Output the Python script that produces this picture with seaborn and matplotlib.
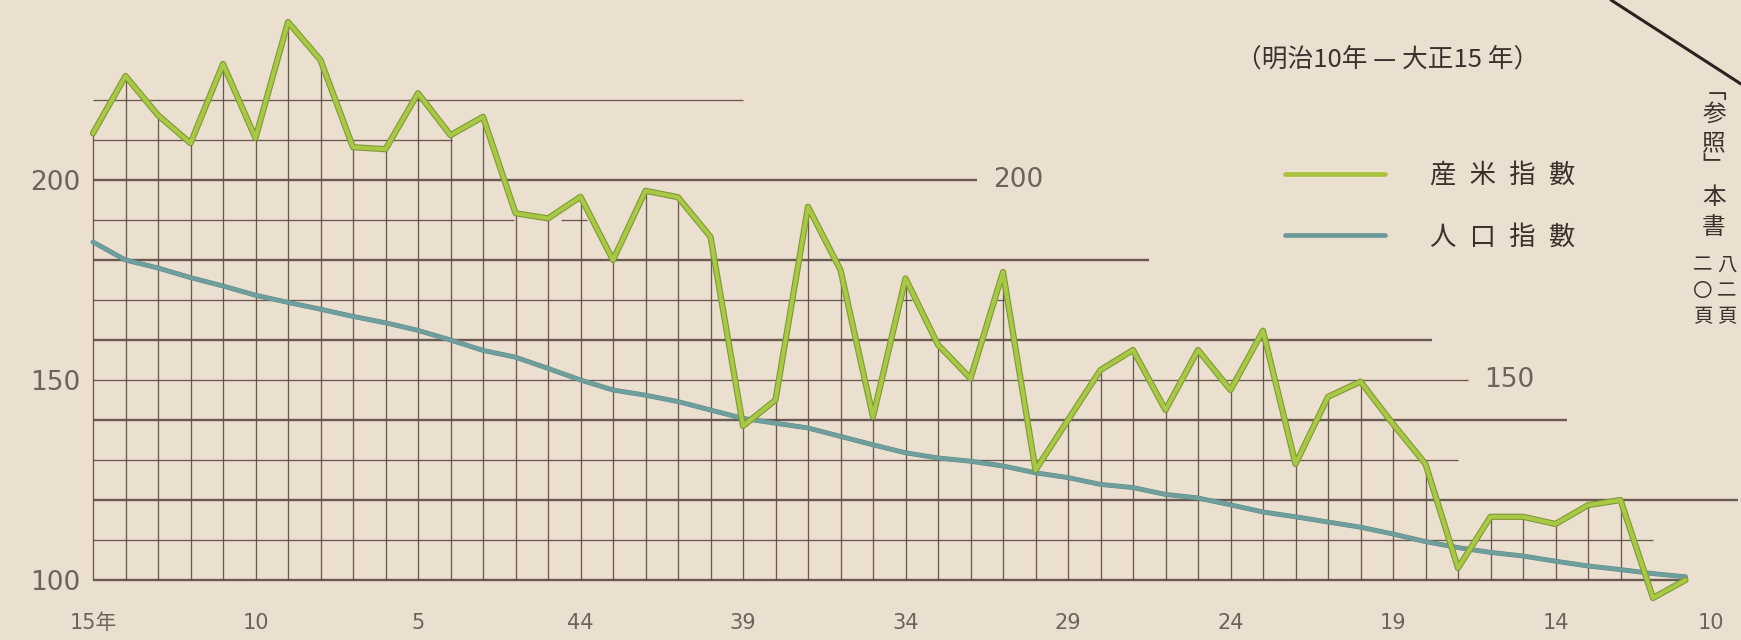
import numpy as np
import pandas as pd
import matplotlib
matplotlib.use("Agg")
import matplotlib.pyplot as plt
import matplotlib.patheffects as pe
import matplotlib.transforms as mtransforms
from matplotlib.lines import Line2D
import seaborn as sns

# ---------------- data ----------------
# index 0 = 大正15年 (1926) ... index 49 = 明治10年 (1877)
year_index = list(range(50))
rice_index = [211.7, 226.0, 216.2, 209.2, 229.0, 210.5, 239.5, 230.0, 208.2, 207.7,
              221.7, 211.2, 215.8, 191.7, 190.4, 195.8, 180.0, 197.3, 195.7, 185.8,
              138.5, 145.0, 193.3, 177.5, 140.8, 175.4, 158.8, 150.4, 177.0, 127.5,
              140.0, 152.5, 157.5, 142.5, 157.5, 147.5, 162.3, 129.0, 145.8, 149.6,
              139.0, 129.0, 103.0, 115.8, 115.8, 114.0, 118.7, 120.0, 95.5, 100.0]
pop_index = [184.5, 180.0, 178.0, 175.6, 173.5, 171.2, 169.4, 167.7, 165.9, 164.3,
             162.4, 160.0, 157.4, 155.7, 152.9, 150.0, 147.5, 146.2, 144.6, 142.5,
             140.4, 139.2, 138.0, 135.9, 133.8, 131.8, 130.5, 129.7, 128.5, 126.8,
             125.6, 123.9, 123.1, 121.4, 120.5, 118.8, 117.0, 115.8, 114.5, 113.2,
             111.5, 109.6, 108.1, 106.9, 106.0, 104.7, 103.5, 102.6, 101.6, 100.8]
series_names = ["産\u2002米\u2002指\u2002數", "人\u2002口\u2002指\u2002數"]
x_tick_pos = [0, 5, 10, 15, 20, 25, 30, 35, 40, 45, 49]
x_tick_labels = ["15年", "10", "5", "44", "39", "34", "29", "24", "19", "14", "10"]
y_tick_vals = [100, 150, 200]
inline_labels = [(200, "200"), (150, "150")]
title_text = "（明治10年 — 大正15 年）"
note_main = "﹁参照﹂本書"
note_right = "八二頁"
note_left = "二〇頁"

# ---------------- style ----------------
BG = "#ebdfcf"
GRID = "#5b4d44"
TXT = "#6f625a"
DARK = "#3b322d"
W, H = 1741, 640

sns.set_style("white", {"axes.facecolor": BG, "figure.facecolor": BG})
plt.rcParams["font.family"] = ["DejaVu Sans", "Noto Sans CJK JP"]
CJK = ["Noto Sans CJK JP", "DejaVu Sans"]

fig = plt.figure(figsize=(W / 100, H / 100), dpi=100)
fig.patch.set_facecolor(BG)
x0_px, dx_px = 93, 32.5
y100_px, px_per_unit = 580, 4.0
ax = fig.add_axes([x0_px / W, (H - y100_px) / H, 1 - x0_px / W, y100_px / H])
ax.set_facecolor(BG)
ax.set_xlim(0, (W - x0_px) / dx_px)
ax.set_ylim(100, 100 + y100_px / px_per_unit)
for s in ax.spines.values():
    s.set_visible(False)

# ---------------- grid (hand-drafted staircase) ----------------
h_segments = {
    220: [(0, 20.0)],
    210: [(0, 11.05)],
    200: [(0, 27.2)],
    190: [(0, 12.95), (14.4, 15.2)],
    180: [(0, 32.5)],
    170: [(0, 23.1), (24.8, 25.2), (27.8, 28.2)],
    160: [(0, 41.2)],
    150: [(0, 42.3)],
    140: [(0, 45.35)],
    130: [(0, 42.0)],
    120: [(0, 50.6)],
    110: [(0, 48.0)],
    100: [(0, 49.0)],
}
thick = {200, 180, 160, 140, 120, 100}
for lvl, segs in h_segments.items():
    for a, b in segs:
        ax.hlines(lvl, a, b, color=GRID, lw=1.7 if lvl in thick else 0.95,
                  alpha=0.9, zorder=1, clip_on=False)

rice_arr = np.array(rice_index)
idx = np.array(year_index)
mask = rice_arr > 100
ax.vlines(idx[mask], 100, rice_arr[mask], color=GRID, lw=0.95, alpha=0.9,
          zorder=1, clip_on=False)

# ---------------- series ----------------
df = pd.DataFrame({"year": year_index, "rice": rice_index, "pop": pop_index})
sns.lineplot(data=df, x="year", y="pop", ax=ax, color="#6f9f9c", lw=2.8,
             zorder=3, clip_on=False,
             path_effects=[pe.Stroke(linewidth=3.5, foreground="#5c8a88"), pe.Normal()])
sns.lineplot(data=df, x="year", y="rice", ax=ax, color="#a9c844", lw=2.9,
             zorder=4, clip_on=False,
             path_effects=[pe.Stroke(linewidth=4.5, foreground="#7e9a36"), pe.Normal()])

ax.set_xlabel("")
ax.set_ylabel("")
ax.set_xticks(x_tick_pos)
ax.set_xticklabels(x_tick_labels, fontsize=15, color=TXT,
                   family=["DejaVu Sans", "Noto Sans CJK JP"])
ax.set_yticks(y_tick_vals)
ax.set_yticklabels([str(v) for v in y_tick_vals], fontsize=19, color=TXT)
ax.tick_params(axis="x", length=0, pad=24)
ax.tick_params(axis="y", length=0, pad=9)
ax.grid(False)
# the last year label sits a little right of its line end, as printed
last = ax.get_xticklabels()[-1]
last.set_transform(last.get_transform() +
                   mtransforms.ScaledTranslation(0.25, 0, fig.dpi_scale_trans))

for val, lab in inline_labels:
    xend = h_segments[val][-1][1]
    ax.text(xend + 0.5, val, lab, fontsize=19, color=TXT, ha="left", va="center")

# ---------------- legend ----------------
handles = [Line2D([0], [0], color="#a9c23e", lw=3.4),
           Line2D([0], [0], color="#6a9a98", lw=3.4)]
leg = ax.legend(handles, series_names, loc="upper left",
                bbox_to_anchor=(1285 / W, 1 - 162 / H), bbox_transform=fig.transFigure,
                frameon=False, handlelength=3.8, handletextpad=1.7,
                labelspacing=1.3, borderpad=0, borderaxespad=0,
                prop={"family": CJK, "size": 19})
for t in leg.get_texts():
    t.set_color(DARK)

# ---------------- annotations ----------------
fig.text(1388 / W, 1 - 60 / H, title_text, ha="center", va="center",
         fontsize=18.5, color=DARK, family=CJK)

col_y = [92, 114, 144, 167, 198, 228]
for ch, yy in zip(note_main, col_y):
    fig.text(1714 / W, 1 - yy / H, ch, ha="center", va="center", fontsize=17,
             color=DARK, family=CJK)
for ch, yy in zip(note_right, [265, 291, 317]):
    fig.text(1727 / W, 1 - yy / H, ch, ha="center", va="center", fontsize=14,
             color=DARK, family=CJK)
for ch, yy in zip(note_left, [265, 291, 317]):
    fig.text(1703 / W, 1 - yy / H, ch, ha="center", va="center", fontsize=14,
             color=DARK, family=CJK)

fig.add_artist(Line2D([1611 / W, 1.0], [1.0, 1 - 84 / H], color="#2a2420", lw=2.2,
                      transform=fig.transFigure))

fig.savefig("out.png", dpi=100, facecolor=BG)
